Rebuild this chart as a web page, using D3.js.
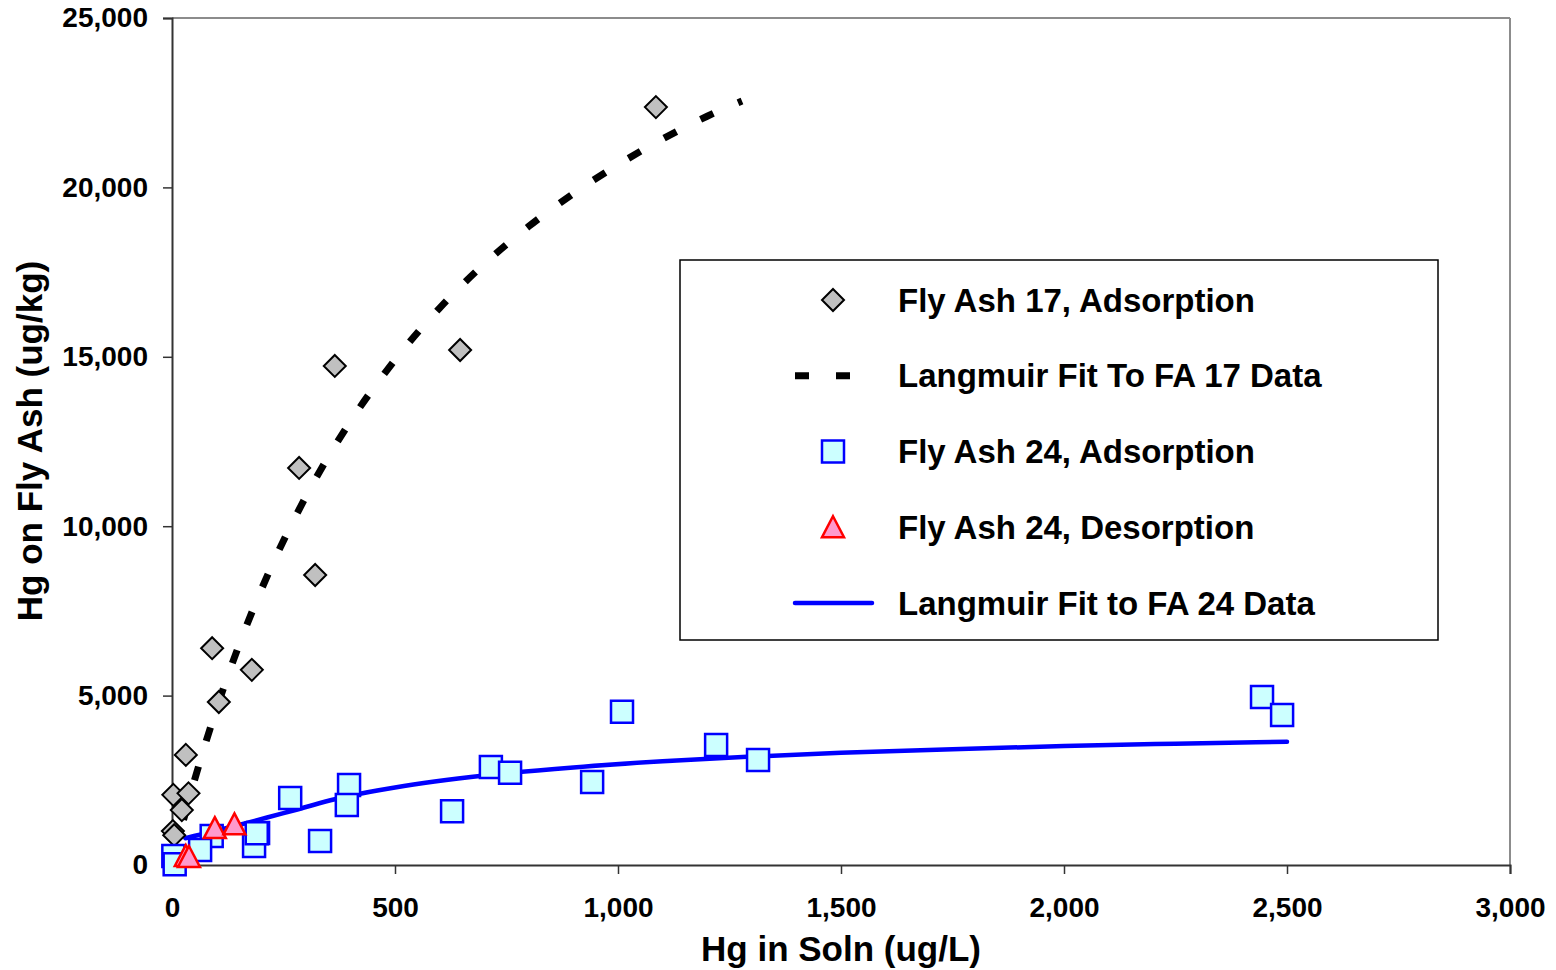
<!DOCTYPE html>
<html>
<head>
<meta charset="utf-8">
<script src="https://cdn.jsdelivr.net/npm/d3@7"></script>
<style>
  body { margin: 0; background: #fff; }
  svg { display: block; font-family: "Liberation Sans", Arial, sans-serif; font-weight: bold; }
</style>
</head>
<body>
<svg id="svg"></svg>
<script>
// data
const fa17C = [1085, 646, 365, 285, 321, 90, 179, 105, 31, 3, 37, 22, 2, 5];
const fa17Q = [22370, 15200, 14730, 11720, 8560, 6400, 5760, 4810, 3250, 2070, 2115, 1620, 1000, 880];

const fa17FitC = [3, 25, 50, 100, 150, 200, 300, 400, 500, 600, 700, 800, 900, 1000, 1100, 1200, 1278];
const fa17FitQ = [160, 1290, 2480, 4620, 6480, 8120, 10870, 13090, 14910, 16440, 17740, 18850, 19820, 20670, 21430, 22100, 22550];

const fa24C = [2444, 2489, 1009, 1220, 1314, 715, 758, 942, 628, 397, 392, 265, 332, 193, 184, 89, 63, 3, 6, 190];
const fa24Q = [4960, 4430, 4520, 3540, 3100, 2890, 2720, 2450, 1590, 2360, 1770, 1980, 710, 945, 560, 855, 440, 265, 20, 935];

const desC = [96, 140, 31, 38];
const desQ = [1090, 1200, 265, 236];

const fa24FitC = [30, 150, 250, 400, 500, 700, 900, 1100, 1300, 1500, 1750, 2000, 2250, 2500];
const fa24FitQ = [790, 1180, 1530, 2050, 2290, 2640, 2880, 3060, 3200, 3310, 3420, 3510, 3580, 3640];

const xTicks = [0, 500, 1000, 1500, 2000, 2500, 3000];
const yTicks = [0, 5000, 10000, 15000, 20000, 25000];

const legendLabels = [
  "Fly Ash 17, Adsorption",
  "Langmuir Fit To FA 17 Data",
  "Fly Ash 24, Adsorption",
  "Fly Ash 24, Desorption",
  "Langmuir Fit to FA 24 Data"
];

const w = 1556;
const h = 970;

const svg = d3.select("#svg")
  .attr("width", w)
  .attr("height", h);

const x = d3.scaleLinear().domain([0, 3000]).range([172, 1510]);
const y = d3.scaleLinear().domain([0, 25000]).range([865, 18]);

const fmt = d3.format(",");

// plot frame (top/right lighter)
svg.append("line").attr("x1", 172).attr("x2", 1510).attr("y1", 18).attr("y2", 18)
  .attr("stroke", "#8c8c8c").attr("stroke-width", 2);
svg.append("line").attr("x1", 1510).attr("x2", 1510).attr("y1", 18).attr("y2", 865)
  .attr("stroke", "#8c8c8c").attr("stroke-width", 2);

const xAxis = svg.append("g")
  .attr("transform", "translate(0,865)")
  .call(d3.axisBottom(x).tickValues(xTicks).tickFormat(fmt).tickSize(9).tickPadding(23));

const yAxis = svg.append("g")
  .attr("transform", "translate(172,0)")
  .call(d3.axisLeft(y).tickValues(yTicks).tickFormat(fmt).tickSize(9).tickPadding(15));

[xAxis, yAxis].forEach(function(a){
  a.select(".domain").attr("stroke", "#333").attr("stroke-width", 2);
  a.selectAll(".tick line").attr("stroke", "#333").attr("stroke-width", 1.5);
  a.selectAll(".tick text")
    .attr("fill", "#000")
    .style("font-size", "28px")
    .style("font-weight", "bold")
    .style("font-family", "'Liberation Sans', Arial, sans-serif");
});

// axis titles
svg.append("text")
  .attr("x", 841).attr("y", 961)
  .attr("text-anchor", "middle")
  .style("font-size", "35px")
  .text("Hg in Soln (ug/L)");

svg.append("text")
  .attr("transform", "translate(42,441) rotate(-90)")
  .attr("text-anchor", "middle")
  .style("font-size", "35px")
  .text("Hg on Fly Ash (ug/kg)");

// fit lines
const line = d3.line()
  .x(d => x(d[0]))
  .y(d => y(d[1]))
  .curve(d3.curveMonotoneX);

svg.append("path")
  .datum(d3.zip(fa17FitC, fa17FitQ))
  .attr("d", line)
  .attr("fill", "none")
  .attr("stroke", "#000")
  .attr("stroke-width", 7)
  .attr("stroke-dasharray", "14,27");

svg.append("path")
  .datum(d3.zip(fa24FitC, fa24FitQ))
  .attr("d", line)
  .attr("fill", "none")
  .attr("stroke", "#0000ff")
  .attr("stroke-width", 4.5)
  .attr("stroke-linecap", "round");

// markers
const diamond = "M0,-11L11,0L0,11L-11,0Z";
const square = "M-11,-11H11V11H-11Z";
const triangle = "M0,-11L11,10L-11,10Z";

svg.append("g").selectAll("path")
  .data(d3.zip(fa17C, fa17Q))
  .enter()
  .append("path")
  .attr("d", diamond)
  .attr("transform", d => "translate(" + x(d[0]) + "," + y(d[1]) + ")")
  .attr("fill", "#c0c0c0")
  .attr("stroke", "#000")
  .attr("stroke-width", 2);

svg.append("g").selectAll("path")
  .data(d3.zip(fa24C, fa24Q))
  .enter()
  .append("path")
  .attr("d", square)
  .attr("transform", d => "translate(" + x(d[0]) + "," + y(d[1]) + ")")
  .attr("fill", "#ccffff")
  .attr("stroke", "#0000ff")
  .attr("stroke-width", 2.5);

svg.append("g").selectAll("path")
  .data(d3.zip(desC, desQ))
  .enter()
  .append("path")
  .attr("d", triangle)
  .attr("transform", d => "translate(" + x(d[0]) + "," + y(d[1]) + ")")
  .attr("fill", "#ff99cc")
  .attr("stroke", "#ff0000")
  .attr("stroke-width", 2.5);

// legend
const lg = svg.append("g");
lg.append("rect")
  .attr("x", 680).attr("y", 260)
  .attr("width", 758).attr("height", 380)
  .attr("fill", "#fff")
  .attr("stroke", "#000")
  .attr("stroke-width", 1.5);

const rowY = d3.scalePoint().domain(d3.range(legendLabels.length)).range([300, 603]);

lg.selectAll("text")
  .data(legendLabels)
  .enter()
  .append("text")
  .attr("x", 898)
  .attr("y", (d, i) => rowY(i) + 11.5)
  .style("font-size", "33px")
  .text(d => d);

lg.append("path").attr("d", diamond)
  .attr("transform", "translate(833," + rowY(0) + ")")
  .attr("fill", "#c0c0c0").attr("stroke", "#000").attr("stroke-width", 2);
lg.append("line")
  .attr("x1", 795).attr("x2", 872).attr("y1", rowY(1)).attr("y2", rowY(1))
  .attr("stroke", "#000").attr("stroke-width", 7).attr("stroke-dasharray", "14,27");
lg.append("path").attr("d", square)
  .attr("transform", "translate(833," + rowY(2) + ")")
  .attr("fill", "#ccffff").attr("stroke", "#0000ff").attr("stroke-width", 2.5);
lg.append("path").attr("d", triangle)
  .attr("transform", "translate(833," + rowY(3) + ")")
  .attr("fill", "#ff99cc").attr("stroke", "#ff0000").attr("stroke-width", 2.5);
lg.append("line")
  .attr("x1", 795).attr("x2", 872).attr("y1", rowY(4)).attr("y2", rowY(4))
  .attr("stroke", "#0000ff").attr("stroke-width", 4.5).attr("stroke-linecap", "round");
</script>
</body>
</html>
